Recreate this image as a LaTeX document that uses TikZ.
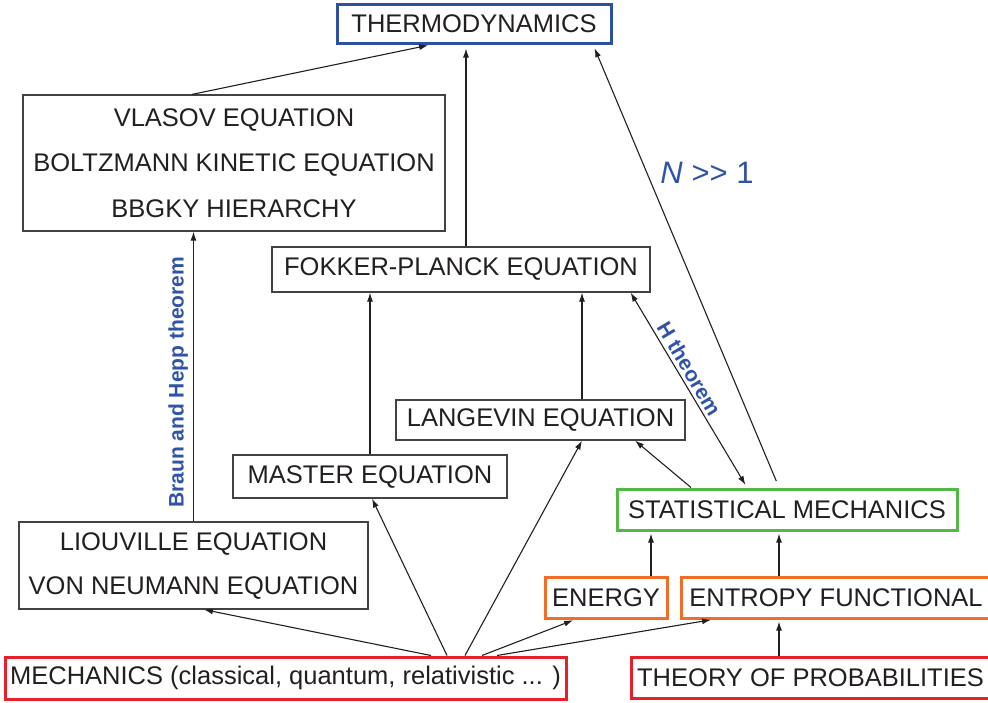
\documentclass[tikz,border=0pt]{standalone}
\usepackage{fontspec}
\setmainfont{Liberation Sans}
\usetikzlibrary{calc,arrows.meta}
\definecolor{thermoblue}{RGB}{46,80,160}
\definecolor{labelblue}{RGB}{48,82,168}
\definecolor{statgreen}{RGB}{82,184,72}
\definecolor{inorange}{RGB}{240,110,40}
\definecolor{basered}{RGB}{230,32,42}
\definecolor{ink}{RGB}{35,31,32}

\begin{document}
\begin{tikzpicture}[x=1pt,y=-1pt,>={Latex[length=9pt,width=6pt]},
  box/.style={draw=ink!85,line width=1.2pt,text=ink,inner sep=0pt,
    font=\fontsize{25.5}{30}\selectfont},
  heavy/.style={line width=3pt},
  twoline/.style={align=center},
  link/.style={->,line width=1.1pt,ink},
  thm/.style={labelblue,font=\fontsize{21}{25}\selectfont\bfseries}]
  \useasboundingbox (0,0) rectangle (988,702);
  % boxes, top to bottom
  \node[box,heavy,draw=thermoblue,minimum width=274,minimum height=39] (thermo) at (474,23.5) {THERMODYNAMICS};
  \node[box,twoline,font=\fontsize{25.5}{45.5}\selectfont,minimum width=422,minimum height=136] (kinetic) at (234,163)
    {VLASOV EQUATION\\BOLTZMANN KINETIC EQUATION\\BBGKY HIERARCHY};
  \node[box,minimum width=378,minimum height=45] (fokker) at (461,269.5) {FOKKER-PLANCK EQUATION};
  \node[box,minimum width=289,minimum height=40] (langevin) at (540.5,420) {LANGEVIN EQUATION};
  \node[box,minimum width=274,minimum height=43] (master) at (370,476.5) {MASTER EQUATION};
  \node[box,heavy,draw=statgreen,minimum width=340,minimum height=41] (statmech) at (787,509.5) {STATISTICAL MECHANICS};
  \node[box,twoline,font=\fontsize{25.5}{44}\selectfont,minimum width=349,minimum height=87] (liouville) at (193.5,565.5)
    {LIOUVILLE EQUATION\\VON NEUMANN EQUATION};
  \node[box,heavy,draw=inorange,minimum width=122,minimum height=41] (energy) at (606,597.5) {ENERGY};
  \node[box,heavy,draw=inorange,minimum width=310,minimum height=41] (entropy) at (836,597.5) {ENTROPY FUNCTIONAL};
  \node[box,heavy,draw=basered,minimum width=561,minimum height=42] (mechanics) at (285.5,678)
    {MECHANICS (classical, quantum, relativistic ... )};
  \node[box,heavy,draw=basered,minimum width=359,minimum height=41] (theory) at (810.5,678) {THEORY OF PROBABILITIES};

  % into thermodynamics
  \draw[link,shorten >=4pt] ([xshift=-42]kinetic.north) -- ([xshift=-42]thermo.south);
  \draw[link,shorten >=4pt] ([xshift=5]fokker.north) -- ([xshift=-8]thermo.south);
  \draw[link,shorten >=4pt,shorten <=7pt] ([xshift=-8]statmech.north) -- ([xshift=119]thermo.south)
    node[pos=.71,right,inner sep=13pt,labelblue,font=\fontsize{31}{36}\selectfont]{\textit{N} >{}> 1};
  % middle
  \draw[link] (liouville.north) -- (liouville.north |- kinetic.south)
    node[pos=.48,above,rotate=90,thm,inner sep=5pt]{Braun and Hepp theorem};
  \draw[link] (master.north) -- (master.north |- fokker.south);
  \draw[link] ([xshift=41.5]langevin.north) -- ([xshift=41.5]langevin.north |- fokker.south);
  \draw[link,<->,shorten >=3pt] ([xshift=-20]fokker.south east) -- ([xshift=-40]statmech.north)
    node[pos=.42,above,sloped,thm,inner sep=3pt]{H theorem};
  \draw[link] ([xshift=-96]statmech.north) -- ([xshift=94.5]langevin.south);
  \draw[link,shorten >=2pt] ([xshift=45]energy.north) -- ([xshift=45]energy.north |- statmech.south);
  \draw[link,shorten >=2pt] ([xshift=-57]entropy.north) -- ([xshift=-57]entropy.north |- statmech.south);
  \draw[link,shorten >=2pt] ([xshift=-31.5]theory.north) -- ([xshift=-31.5]theory.north |- entropy.south);
  % out of mechanics
  \draw[link] ([xshift=145.5]mechanics.north) -- ([xshift=10.5]liouville.south);
  \draw[link] ([xshift=161.5]mechanics.north) -- ([xshift=2]master.south);
  \draw[link] ([xshift=179.5]mechanics.north) -- ([xshift=41.5]langevin.south);
  \draw[link,shorten >=2pt] ([xshift=196.5]mechanics.north) -- ([xshift=-31]energy.south);
  \draw[link,shorten >=2pt] ([xshift=211.5]mechanics.north) -- ([xshift=-123]entropy.south);
\end{tikzpicture}
\end{document}
